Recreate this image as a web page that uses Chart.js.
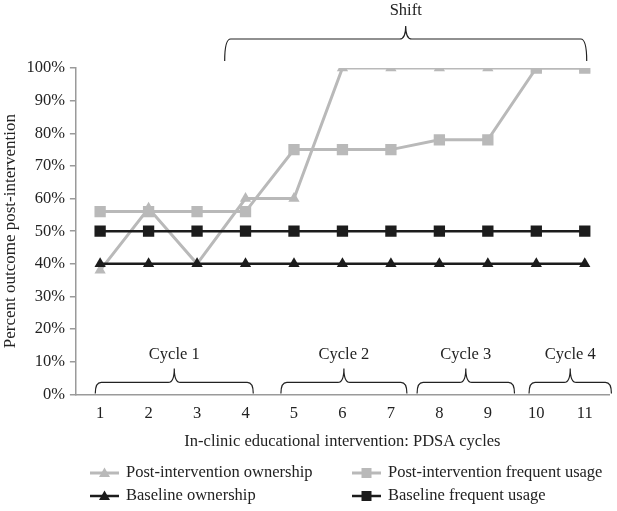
<!DOCTYPE html>
<html>
<head>
<meta charset="utf-8">
<script src="https://cdn.jsdelivr.net/npm/chart.js@4/dist/chart.umd.min.js"></script>
<style>
  html, body { margin: 0; padding: 0; background: #fff; }
  #wrap { width: 617px; height: 511px; }
</style>
</head>
<body>
<div id="wrap"><canvas id="pdsaChart"></canvas></div>
<script>
var cycles = ["1", "2", "3", "4", "5", "6", "7", "8", "9", "10", "11"];
var postOwnership = [38, 57, 40, 60, 60, 100, 100, 100, 100, 100, 100];
var postFrequent = [56, 56, 56, 56, 75, 75, 75, 78, 78, 100, 100];
var baseOwnership = [40, 40, 40, 40, 40, 40, 40, 40, 40, 40, 40];
var baseFrequent = [50, 50, 50, 50, 50, 50, 50, 50, 50, 50, 50];
var yTicks = [0, 10, 20, 30, 40, 50, 60, 70, 80, 90, 100];

// brace spans in cycle units
var cycleNames = ["Cycle 1", "Cycle 2", "Cycle 3", "Cycle 4"];
var cycleFrom = [0.9, 4.73, 7.54, 9.85];
var cycleTo = [4.16, 7.33, 9.55, 11.55];
var shiftName = "Shift";
var shiftFrom = 3.57;
var shiftTo = 11.04;

var GRAY = "#b9b9b9";
var BLACK = "#1c1c1c";
var FONT = "'Liberation Serif', 'DejaVu Serif', serif";
var FSIZE = 16.5;

function drawBrace(ctx, x1, x2, yTip, yBar, yPeak) {
  var xc = (x1 + x2) / 2;
  var r = 6;
  ctx.beginPath();
  ctx.moveTo(x1, yTip);
  ctx.quadraticCurveTo(x1, yBar, x1 + r, yBar);
  ctx.lineTo(xc - r, yBar);
  ctx.quadraticCurveTo(xc, yBar, xc, yPeak);
  ctx.quadraticCurveTo(xc, yBar, xc + r, yBar);
  ctx.lineTo(x2 - r, yBar);
  ctx.quadraticCurveTo(x2, yBar, x2, yTip);
  ctx.stroke();
}

function marker(ctx, style, x, y, color) {
  ctx.fillStyle = color;
  ctx.beginPath();
  if (style === "triangle") {
    ctx.moveTo(x, y - 5.5);
    ctx.lineTo(x + 5.5, y + 4);
    ctx.lineTo(x - 5.5, y + 4);
    ctx.closePath();
  } else {
    ctx.rect(x - 5, y - 5, 10, 10);
  }
  ctx.fill();
}

var bracesPlugin = {
  id: "braces",
  afterDraw: function (chart) {
    var ctx = chart.ctx;
    var xs = chart.scales.x;
    var area = chart.chartArea;
    ctx.save();
    ctx.strokeStyle = "#222";
    ctx.lineWidth = 1.2;
    ctx.fillStyle = "#222";
    ctx.font = FSIZE + "px " + FONT;
    ctx.textAlign = "center";
    ctx.textBaseline = "middle";

    for (var i = 0; i < cycleNames.length; i++) {
      var a = xs.getPixelForValue(cycleFrom[i] - 1);
      var b = xs.getPixelForValue(cycleTo[i] - 1);
      drawBrace(ctx, a, b, area.bottom - 1, area.bottom - 12, area.bottom - 26);
      ctx.fillText(cycleNames[i], (a + b) / 2, area.bottom - 40);
    }

    var s1 = xs.getPixelForValue(shiftFrom - 1);
    var s2 = xs.getPixelForValue(shiftTo - 1);
    drawBrace(ctx, s1, s2, area.top - 7, area.top - 29, area.top - 42);
    ctx.fillText(shiftName, (s1 + s2) / 2, area.top - 57);

    // legend, two columns
    var colX = [90, 352];
    var rowY = [473, 496];
    ctx.textAlign = "left";
    chart.data.datasets.forEach(function (ds, k) {
      var x = colX[k % 2];
      var y = rowY[Math.floor(k / 2)];
      ctx.strokeStyle = ds.borderColor;
      ctx.lineWidth = ds.borderWidth;
      ctx.beginPath();
      ctx.moveTo(x, y);
      ctx.lineTo(x + 29, y);
      ctx.stroke();
      marker(ctx, ds.pointStyle, x + 14.5, y, ds.borderColor);
      ctx.fillStyle = "#222";
      ctx.fillText(ds.label, x + 36, y);
    });
    ctx.restore();
  }
};

function series(label, data, color, style, width, order, radius) {
  return {
    label: label,
    data: data,
    borderColor: color,
    backgroundColor: color,
    borderWidth: width,
    pointStyle: style,
    pointRadius: radius,
    pointHoverRadius: radius,
    pointBorderWidth: 0,
    order: order,
    tension: 0
  };
}

new Chart(document.getElementById("pdsaChart"), {
  type: "line",
  data: {
    labels: cycles,
    datasets: [
      series("Post-intervention ownership", postOwnership, GRAY, "triangle", 3, 2, 6.5),
      series("Post-intervention frequent usage", postFrequent, GRAY, "rect", 3, 1, 8),
      series("Baseline ownership", baseOwnership, BLACK, "triangle", 2.5, 0, 6.5),
      series("Baseline frequent usage", baseFrequent, BLACK, "rect", 2.5, 0, 8)
    ]
  },
  options: {
    responsive: true,
    maintainAspectRatio: false,
    animation: false,
    layout: { padding: { top: 68, right: 2, bottom: 55, left: 0 } },
    plugins: {
      legend: { display: false },
      tooltip: { enabled: false }
    },
    scales: {
      x: {
        offset: true,
        grid: { display: false },
        border: { color: "#9a9a9a", width: 1.5 },
        ticks: { color: "#222", font: { family: FONT, size: FSIZE }, padding: 1 },
        title: {
          display: true,
          text: "In-clinic educational intervention: PDSA cycles",
          color: "#222",
          font: { family: FONT, size: FSIZE },
          padding: { top: 8 }
        }
      },
      y: {
        min: 0,
        max: 100,
        afterBuildTicks: function (axis) {
          axis.ticks = yTicks.map(function (v) { return { value: v }; });
        },
        grid: { drawOnChartArea: false, drawTicks: true, tickLength: 6, color: "#9a9a9a", lineWidth: 1.5 },
        border: { color: "#9a9a9a", width: 1.5 },
        ticks: {
          color: "#222",
          font: { family: FONT, size: FSIZE },
          padding: 5,
          callback: function (v) { return v + "%"; }
        },
        title: {
          display: true,
          text: "Percent outcome post-intervention",
          color: "#222",
          font: { family: FONT, size: 17 },
          padding: { top: 0, bottom: 1 }
        }
      }
    }
  },
  plugins: [bracesPlugin]
});
</script>
</body>
</html>
